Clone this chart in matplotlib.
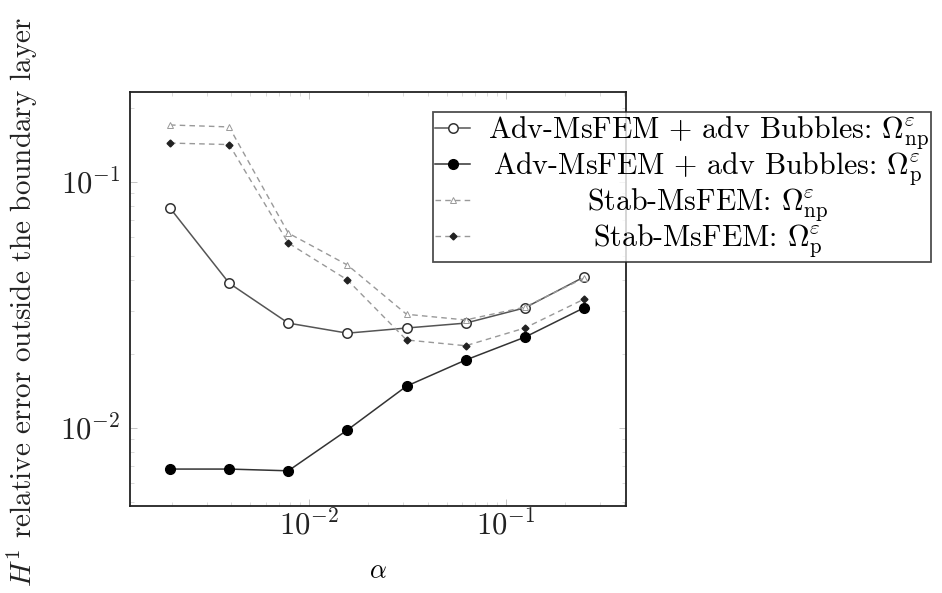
import matplotlib
matplotlib.use("Agg")
import matplotlib.pyplot as plt

plt.rcParams['font.family'] = ['serif']
plt.rcParams['font.serif'] = ['cmr10', 'DejaVu Serif']
plt.rcParams['mathtext.fontset'] = 'cm'
plt.rcParams['axes.formatter.use_mathtext'] = True

alpha = [1/512, 1/256, 1/128, 1/64, 1/32, 1/16, 1/8, 1/4]
adv_np = [0.0784, 0.0388, 0.0267, 0.0243, 0.0255, 0.0267, 0.0308, 0.0411]
adv_p = [0.00681, 0.00681, 0.0067, 0.00982, 0.0148, 0.0189, 0.0234, 0.0308]
stab_np = [0.1706, 0.1675, 0.062, 0.046, 0.029, 0.0275, 0.031, 0.0407]
stab_p = [0.144, 0.142, 0.0565, 0.040, 0.0228, 0.0216, 0.0255, 0.0334]

labels = [r"Adv-MsFEM + adv Bubbles: $\Omega^{\varepsilon}_{\mathrm{np}}$",
          r"Adv-MsFEM + adv Bubbles: $\Omega^{\varepsilon}_{\mathrm{p}}$",
          r"Stab-MsFEM: $\Omega^{\varepsilon}_{\mathrm{np}}$",
          r"Stab-MsFEM: $\Omega^{\varepsilon}_{\mathrm{p}}$"]

fig = plt.figure(figsize=(9.42, 5.93), dpi=100)
ax = fig.add_axes([130/942, 1 - 506/593, 496/942, 414/593])

ax.plot(alpha, adv_np, '-', color='#555555', lw=1.1, marker='o', ms=6.8,
        mfc='white', mec='#333333', mew=1.1, label=labels[0])
ax.plot(alpha, adv_p, '-', color='#333333', lw=1.1, marker='o', ms=7,
        mfc='black', mec='black', label=labels[1])
ax.plot(alpha, stab_np, '--', color='#999999', lw=1.0, marker='^', ms=3.8,
        mfc='white', mec='#999999', mew=0.7, label=labels[2], dashes=(4, 3))
ax.plot(alpha, stab_p, '--', color='#999999', lw=1.0, marker='D', ms=3.5,
        mfc='#222222', mec='#222222', label=labels[3], dashes=(4, 3))

ax.set_xscale('log')
ax.set_yscale('log')
ax.set_xlim(10**-2.913, 10**-0.388)
ax.set_ylim(10**-2.317, 10**-0.634)
ax.set_xticks([1e-2, 1e-1])
ax.set_yticks([1e-2, 1e-1])
ax.tick_params(axis='both', which='major', labelsize=22, direction='in', length=5,
               width=0.6, colors='#bbbbbb', labelcolor='#222222', pad=7)
ax.tick_params(axis='x', which='major', pad=3)
ax.tick_params(axis='both', which='minor', direction='in', length=3, width=0.5, colors='#cccccc')
ax.tick_params(top=True, right=True, which='both')
for s in ax.spines.values():
    s.set_linewidth(1.3)
    s.set_color('#222222')

ax.set_xlabel(r"$\alpha$", fontsize=19)
ax.xaxis.set_label_coords(0.5, -0.13)
fig.text(22/942, 1 - 302/593, r"$H^1$ relative error outside the boundary layer",
         rotation=90, ha='center', va='center', fontsize=21, color='#222222')

leg = fig.legend(loc='upper left', bbox_to_anchor=(433/942, 1 - 112/593), fontsize=21.5,
                 frameon=True, fancybox=False, edgecolor='#222222',
                 handlelength=1.15, handletextpad=0.6, borderpad=0.08,
                 labelspacing=-0.05, borderaxespad=0)
leg.get_frame().set_linewidth(1.3)

fig.canvas.draw()
r = fig.canvas.get_renderer()
texts = leg.get_texts()
ws = [t.get_window_extent(r).width for t in texts]
W = max(ws)
for t, w in zip(texts, ws):
    t.set_x((W - w) / 2)

fig.savefig('out.png', dpi=100, facecolor='white')
